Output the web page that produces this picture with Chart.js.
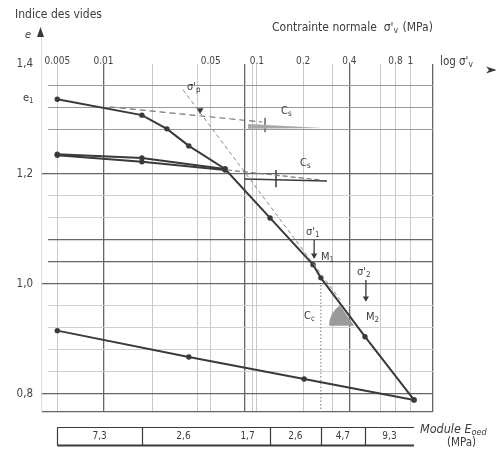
<!DOCTYPE html>
<html>
<head>
<meta charset="utf-8">
<script src="https://cdn.jsdelivr.net/npm/chart.js@4.4.0/dist/chart.umd.min.js"></script>
<style>
  html, body { margin: 0; padding: 0; background: #fff; }
</style>
</head>
<body>
<canvas id="oedoChart" width="496" height="453"></canvas>
<script>
// oedometer test - void ratio e vs log of effective stress (MPa)
const loadStress = [0.005, 0.0178, 0.0259, 0.036, 0.062, 0.1217, 0.232, 0.261, 0.506, 1.056];
const loadVoid = [1.336, 1.307, 1.282, 1.251, 1.209, 1.12, 1.035, 1.011, 0.904, 0.789];
const unload1Stress = [0.062, 0.0178, 0.005];
const unload1Void = [1.209, 1.229, 1.236];
const reload1Stress = [0.005, 0.0178, 0.062];
const reload1Void = [1.234, 1.222, 1.207];
const unload2Stress = [1.056, 0.203, 0.036, 0.005];
const unload2Void = [0.789, 0.827, 0.867, 0.915];

// construction lines
const ccLineStress = [0.033, 0.358];
const ccLineVoid = [1.353, 0.967];
const csUpStress = [0.011, 0.108];
const csUpVoid = [1.322, 1.2945];
const csUpTickStress = [0.113, 0.113];
const csUpTickVoid = [1.302, 1.276];
const csUpWedgeStress = [0.0875, 0.0875, 0.2695];
const csUpWedgeVoid = [1.291, 1.282, 1.2836];
const csLowDashStress = [0.0638, 0.2576];
const csLowDashVoid = [1.2073, 1.1891];
const csLowStress = [0.0836, 0.286];
const csLowVoid = [1.1909, 1.1873];
const csLowTickStress = [0.1331, 0.1331];
const csLowTickVoid = [1.207, 1.176];
const ccDropStress = [0.261, 0.261];
const ccDropVoid = [0.998, 0.767];
const ccAngleAt = [0.43, 0.924];
const sigmaPStress = [0.0426];
const sigmaPVoid = [1.316];
const sigma1Stress = [0.236, 0.236];
const sigma1Void = [1.08, 1.052];
const sigma2Stress = [0.513, 0.513];
const sigma2Void = [1.007, 0.974];

// oedometric modulus table (MPa) between loading steps
const eoedBounds = [0.005, 0.0178, 0.062, 0.1217, 0.261, 0.506, 1.056];
const eoedModulus = [7.3, 2.6, 1.7, 2.6, 4.7, 9.3];

// axes
const xGrid = [0.005, 0.01, 0.021, 0.0407, 0.05, 0.0836, 0.0942, 0.1, 0.2, 0.309, 0.4, 0.634, 0.8, 1, 1.404];
const xLabelled = [0.005, 0.01, 0.05, 0.1, 0.2, 0.4, 0.8, 1];
const xDark = [0.01, 0.0836, 0.4, 1.404];
const yGrid = [0.767, 0.8, 0.84, 0.88, 0.92, 0.96, 1.0, 1.04, 1.08, 1.12, 1.16, 1.2, 1.28, 1.32, 1.36, 1.4];
const yLabelled = [0.8, 1.0, 1.2, 1.4];
const yDark = [0.767, 0.8, 1.0, 1.04, 1.08, 1.2];
const yMedium = [1.28, 1.32, 1.36];

const FONT = "'DejaVu Sans Condensed', 'Liberation Sans Narrow', 'DejaVu Sans', sans-serif";
const INK = "#3a3a3a";
const key = v => Math.round(v * 10000);
const has = (list, v) => list.some(w => key(w) === key(v));
const pts = (xs, ys) => xs.map((x, i) => ({ x, y: ys[i] }));
const comma = s => String(s).replace(".", ",");

Chart.defaults.font.family = FONT;
Chart.defaults.color = "#444";

function curve(xs, ys) {
  return {
    data: pts(xs, ys),
    showLine: true,
    borderColor: INK,
    borderWidth: 2,
    pointRadius: 2.7,
    pointBackgroundColor: INK,
    pointBorderWidth: 0
  };
}

function guide(xs, ys, dash, color, width) {
  return {
    data: pts(xs, ys),
    showLine: true,
    borderColor: color || "#777",
    borderWidth: width || 1,
    borderDash: dash || [],
    pointRadius: 0
  };
}

function arrow(xs, ys) {
  return {
    data: pts(xs, ys),
    showLine: true,
    borderColor: INK,
    borderWidth: 1.3,
    pointStyle: "triangle",
    pointRotation: 180,
    pointRadius: [0, 3.6],
    pointBackgroundColor: INK,
    pointBorderWidth: 0
  };
}

function write(ctx, runs, x, y, size, italic) {
  ctx.textAlign = "left";
  ctx.textBaseline = "middle";
  ctx.fillStyle = "#3c3c3c";
  let cx = x;
  runs.forEach(r => {
    const isSub = typeof r !== "string";
    const s = isSub ? r.sub : r;
    const fs = isSub ? size * 0.72 : size;
    ctx.font = `${italic ? "italic " : ""}${fs}px ${FONT}`;
    ctx.fillText(s, cx, isSub ? y + 3 : y);
    cx += ctx.measureText(s).width + (isSub ? 1 : 0);
  });
}

const decorations = {
  id: "decorations",
  afterDatasetsDraw(chart) {
    const { ctx, scales: { x, y } } = chart;
    ctx.save();

    // Cs slope wedge
    ctx.fillStyle = "#a8a8a8";
    ctx.beginPath();
    csUpWedgeStress.forEach((s, i) => {
      const px = x.getPixelForValue(s), py = y.getPixelForValue(csUpWedgeVoid[i]);
      i ? ctx.lineTo(px, py) : ctx.moveTo(px, py);
    });
    ctx.closePath();
    ctx.fill();

    // Cc angle sector
    const cx = x.getPixelForValue(ccAngleAt[0]), cy = y.getPixelForValue(ccAngleAt[1]);
    const tx = x.getPixelForValue(loadStress[7]), ty = y.getPixelForValue(loadVoid[7]);
    let a = Math.atan2(ty - cy, tx - cx);
    if (a < 0) a += Math.PI * 2;
    ctx.fillStyle = "#9a9a9a";
    ctx.beginPath();
    ctx.moveTo(cx, cy);
    ctx.arc(cx, cy, 25, Math.PI, a);
    ctx.closePath();
    ctx.fill();

    // faint vertical axis with arrow
    ctx.strokeStyle = "#dcdcdc";
    ctx.lineWidth = 1;
    ctx.beginPath();
    ctx.moveTo(41.5, 36);
    ctx.lineTo(41.5, y.bottom);
    ctx.stroke();
    ctx.fillStyle = INK;
    ctx.beginPath();
    ctx.moveTo(40.5, 27);
    ctx.lineTo(44, 37);
    ctx.lineTo(37, 37);
    ctx.closePath();
    ctx.fill();
    ctx.beginPath();
    ctx.moveTo(486, 66.5);
    ctx.lineTo(497, 70);
    ctx.lineTo(486, 73.5);
    ctx.lineTo(489, 70);
    ctx.closePath();
    ctx.fill();

    // texts
    write(ctx, ["Indice des vides"], 15, 15, 12);
    write(ctx, ["e"], 25, 35, 11, true);
    write(ctx, ["e", { sub: "1" }], 23, 98, 11);
    write(ctx, ["Contrainte normale  σ'", { sub: "v" }, " (MPa)"], 272, 28, 12);
    write(ctx, ["log σ'", { sub: "v" }], 440, 62, 11.5);
    write(ctx, ["σ'", { sub: "p" }], 187, 87, 11);
    write(ctx, ["C", { sub: "s" }], 281, 111, 11);
    write(ctx, ["C", { sub: "s" }], 300, 163, 11);
    write(ctx, ["σ'", { sub: "1" }], 306, 232, 11);
    write(ctx, ["M", { sub: "1" }], 321, 257, 11);
    write(ctx, ["σ'", { sub: "2" }], 357, 272, 11);
    write(ctx, ["M", { sub: "2" }], 366, 317, 11);
    write(ctx, ["C", { sub: "c" }], 304, 316, 11);
    write(ctx, ["Module E", { sub: "oed" }], 420, 430, 12.5, true);
    write(ctx, ["(MPa)"], 447, 443, 11.5);

    // modulus table
    const bx = eoedBounds.map(v => x.getPixelForValue(v));
    const top = 427.5, bottom = 445.5;
    ctx.strokeStyle = INK;
    ctx.lineWidth = 1;
    ctx.beginPath();
    ctx.moveTo(bx[0], top);
    ctx.lineTo(bx[bx.length - 1], top);
    ctx.stroke();
    ctx.lineWidth = 1.8;
    ctx.beginPath();
    ctx.moveTo(bx[0], bottom);
    ctx.lineTo(bx[bx.length - 1], bottom);
    ctx.stroke();
    ctx.lineWidth = 1.2;
    bx.forEach((px, i) => {
      if (i === 2 || i === bx.length - 1) return;
      ctx.beginPath();
      ctx.moveTo(Math.round(px) + 0.5, top);
      ctx.lineTo(Math.round(px) + 0.5, bottom);
      ctx.stroke();
    });
    ctx.font = `10px ${FONT}`;
    ctx.fillStyle = "#3c3c3c";
    ctx.textAlign = "center";
    ctx.textBaseline = "middle";
    eoedModulus.forEach((m, i) => {
      ctx.fillText(comma(m.toFixed(1)), (bx[i] + bx[i + 1]) / 2, (top + bottom) / 2);
    });

    ctx.restore();
  }
};

new Chart(document.getElementById("oedoChart"), {
  type: "scatter",
  data: {
    datasets: [
      guide(ccLineStress, ccLineVoid, [4, 3], "#888", 1),
      guide(csUpStress, csUpVoid, [6, 4], "#777", 1.2),
      guide(csUpTickStress, csUpTickVoid, [], "#777", 1),
      guide(csLowDashStress, csLowDashVoid, [5, 3], "#777", 1.2),
      guide(csLowStress, csLowVoid, [], INK, 1.4),
      guide(csLowTickStress, csLowTickVoid, [], "#555", 1),
      guide(ccDropStress, ccDropVoid, [1.5, 2], "#777", 1),
      curve(loadStress, loadVoid),
      curve(unload1Stress, unload1Void),
      curve(reload1Stress, reload1Void),
      curve(unload2Stress, unload2Void),
      {
        data: pts(sigmaPStress, sigmaPVoid),
        pointStyle: "triangle",
        pointRotation: 180,
        pointRadius: 4,
        pointBackgroundColor: INK,
        pointBorderWidth: 0
      },
      arrow(sigma1Stress, sigma1Void),
      arrow(sigma2Stress, sigma2Void)
    ]
  },
  options: {
    responsive: false,
    animation: false,
    layout: { padding: { left: 0, top: 0, right: 63, bottom: 41 } },
    plugins: {
      legend: { display: false },
      tooltip: { enabled: false }
    },
    scales: {
      x: {
        type: "logarithmic",
        position: "top",
        min: 0.00435,
        max: 1.404,
        afterBuildTicks: s => { s.ticks = xGrid.map(v => ({ value: v })); },
        afterFit: s => { s.height = 64; },
        border: { display: false },
        grid: {
          drawTicks: false,
          color: c => has(xDark, c.tick.value) ? "#666" : "#c9c9c9",
          lineWidth: c => has(xDark, c.tick.value) ? 1.3 : 1
        },
        ticks: {
          autoSkip: false,
          maxRotation: 0,
          padding: -3,
          font: { size: 10 },
          color: "#444",
          callback: v => has(xLabelled, v) ? comma(v) : ""
        }
      },
      y: {
        type: "linear",
        min: 0.767,
        max: 1.4,
        afterBuildTicks: s => { s.ticks = yGrid.map(v => ({ value: v })); },
        afterFit: s => { s.width = 48; },
        border: { display: false },
        grid: {
          tickLength: 6,
          color: c => {
            const v = c.tick.value;
            if (key(v) === key(1.4)) return "rgba(0,0,0,0)";
            if (has(yDark, v)) return "#666";
            if (has(yMedium, v)) return "#999";
            return "#cfcfcf";
          },
          lineWidth: c => has(yDark, c.tick.value) ? 1.3 : 1,
          tickColor: c => (has(yLabelled, c.tick.value) && key(c.tick.value) !== key(1.4)) || key(c.tick.value) === key(0.767) ? "#666" : "rgba(0,0,0,0)"
        },
        ticks: {
          padding: 9,
          font: { size: 11.5 },
          color: "#444",
          callback: v => has(yLabelled, v) ? comma(v.toFixed(1)) : ""
        }
      }
    }
  },
  plugins: [decorations]
});
</script>
</body>
</html>
